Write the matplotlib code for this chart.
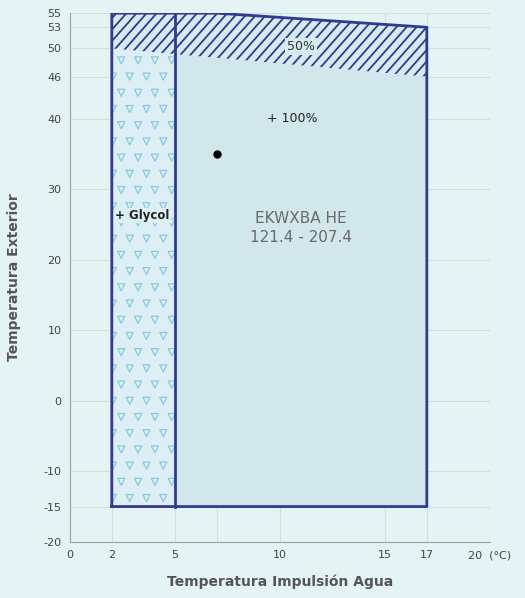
import matplotlib.pyplot as plt
import numpy as np
from matplotlib.patches import Polygon

# Axis ticks
x_ticks = [0, 2, 5, 10, 15, 17]
y_ticks = [-20, -15, -10, 0, 10, 20, 30, 40, 46, 50, 53, 55]

# Operating envelope (water outlet temp, outdoor temp)
glycol_x = [2, 5]
env_bottom = -15
full_x = [5, 7, 17]
full_top = [55, 55, 53]
half_lower = [(2, 50), (17, 46)]  # lower edge of 50% zone
point = (7, 35)

bg = "#e4f3f3"
edge = "#2f3b8f"

fig = plt.figure(figsize=(5.25, 5.98), dpi=100, facecolor=bg)
ax = fig.add_axes([0.133, 0.094, 0.8, 0.884], facecolor=bg)
ax.set_xlim(0, 20)
ax.set_ylim(-20, 55)

# grid
for xv in x_ticks[1:] + [7, 20]:
    ax.axvline(xv, color="#d2dede", lw=0.8, zorder=0)
for yv in y_ticks[1:]:
    ax.axhline(yv, color="#d2dede", lw=0.8, zorder=0)

# lower edge of 50% zone as a line y = f(x)
(hx0, hy0), (hx1, hy1) = half_lower
def lower(x):
    return hy0 + (hy1 - hy0) * (x - hx0) / (hx1 - hx0)

# 100% zone fill
full_poly = [(5, env_bottom), (5, lower(5)), (17, lower(17)), (17, env_bottom)]
ax.add_patch(Polygon(full_poly, closed=True, facecolor="#d2e7eb", edgecolor="none", zorder=1))

# glycol zone fill
g0, g1 = glycol_x
gly = Polygon([(g0, env_bottom), (g0, lower(g0)), (g1, lower(g1)), (g1, env_bottom)],
              closed=True, facecolor="#ddeff4", edgecolor="none", zorder=1)
ax.add_patch(gly)
# triangle pattern
tri_y = np.arange(env_bottom + 1.2, lower(g1) - 0.3, 2.3)
for i, yy in enumerate(tri_y):
    off = 0.0 if i % 2 == 0 else 0.4
    xs = np.arange(g0 + 0.05 + off, g1 + 0.4, 0.8)
    sc = ax.scatter(xs, np.full(len(xs), yy), marker="v", s=26, facecolors="none",
                    edgecolors="#8dc7de", linewidths=0.9, zorder=2)
    sc.set_clip_path(gly)

# 50% hatched zone
top_poly = [(2, lower(2)), (2, 55)] + list(zip(full_x, full_top)) + [(17, lower(17))]
half = Polygon(top_poly, closed=True, facecolor="#d6eaf0", edgecolor="none", zorder=2)
ax.add_patch(half)
# diagonal hatch lines, clipped to the zone
for c in np.arange(-2, 18, 0.48):
    ln, = ax.plot([c, c + 4], [44, 44 + 13.5], color=edge, lw=1.3, zorder=3)
    ln.set_clip_path(half)

# outline
out_x = [2, 2] + full_x + [17, 2]
out_y = [env_bottom, 55] + full_top + [env_bottom, env_bottom]
ax.plot(out_x, out_y, color=edge, lw=2, zorder=4)
ax.plot([5, 5], [env_bottom, 55], color=edge, lw=2, zorder=4)

ax.plot(*point, "o", color="black", ms=5, zorder=5)

ax.text(11, 50.3, "50%", ha="center", va="center", fontsize=9, color="#333333", zorder=6,
        bbox=dict(facecolor="#d6eaf0", edgecolor="none", pad=1.5))
ax.text(10.6, 40, "+ 100%", ha="center", va="center", fontsize=9, color="#222222", zorder=6)
ax.text(2.15, 26.3, "+ Glycol", ha="left", va="center", fontsize=8.5, color="#222222",
        zorder=6, fontweight="semibold",
        bbox=dict(facecolor="#ddeff4", edgecolor="none", pad=1))
ax.text(11, 24.5, "EKWXBA HE\n121.4 - 207.4", ha="center", va="center", fontsize=11,
        color="#6a6a6a", linespacing=1.3, zorder=6)

ax.set_xticks(x_ticks + [20])
ax.set_xticklabels([str(v) for v in x_ticks] + ["20  (°C)"], fontsize=8, color="#444444")
ax.set_yticks(y_ticks)
ax.set_yticklabels([str(v) for v in y_ticks], fontsize=8, color="#444444")
ax.tick_params(length=0, pad=6)
for s in ["top", "right"]:
    ax.spines[s].set_visible(False)
for s in ["left", "bottom"]:
    ax.spines[s].set_color("#a0a0a0")

ax.set_xlabel("Temperatura Impulsión Agua", fontsize=10, fontweight="bold", color="#555555",
              labelpad=10)
ax.set_ylabel("Temperatura Exterior", fontsize=10, fontweight="bold", color="#555555",
              labelpad=16)

fig.savefig("out.png", dpi=100, facecolor=bg)
